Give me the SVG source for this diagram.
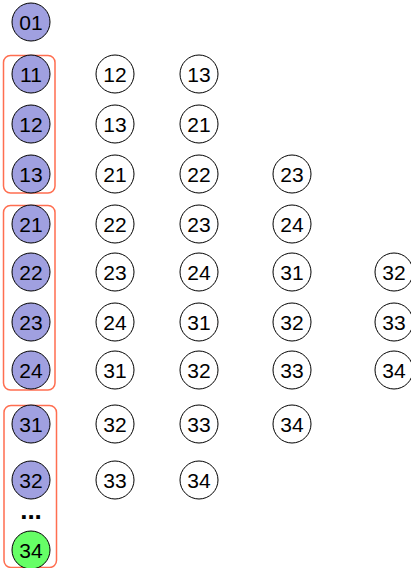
<svg xmlns="http://www.w3.org/2000/svg" width="411" height="568" viewBox="0 0 411 568">
<style>
.n circle{stroke:#000;stroke-width:1}
.b circle{fill:#a0a0e0}
.w circle{fill:#fff}
.g circle{fill:#66ff66}
text{font-family:"Liberation Sans",Arial,sans-serif;font-size:21px;fill:#000;text-anchor:middle;dominant-baseline:central}
.box{fill:none;stroke:#ff6e50;stroke-width:1.5}
</style>
<rect width="411" height="568" fill="#fff"/>
<g id="groups">
<rect class="box" x="3.5" y="55.5" width="51.5" height="137.5" rx="7"/>
<rect class="box" x="3.5" y="205.5" width="51.5" height="184.5" rx="7"/>
<rect class="box" x="4" y="405.5" width="52.5" height="162" rx="7"/>
</g>
<g id="c1">
<g id="n01" class="n b"><circle cx="31" cy="22" r="19"/><text x="31" y="22">01</text></g>
<g id="n11" class="n b"><circle cx="31" cy="74" r="19"/><text x="31" y="74">11</text></g>
<g id="n12" class="n b"><circle cx="31" cy="124" r="19"/><text x="31" y="124">12</text></g>
<g id="n13" class="n b"><circle cx="31" cy="174" r="19"/><text x="31" y="174">13</text></g>
<g id="n21" class="n b"><circle cx="31" cy="224" r="19"/><text x="31" y="224">21</text></g>
<g id="n22" class="n b"><circle cx="31" cy="272" r="19"/><text x="31" y="272">22</text></g>
<g id="n23" class="n b"><circle cx="31" cy="322" r="19"/><text x="31" y="322">23</text></g>
<g id="n24" class="n b"><circle cx="31" cy="370" r="19"/><text x="31" y="370">24</text></g>
<g id="n31" class="n b"><circle cx="31" cy="424" r="19"/><text x="31" y="424">31</text></g>
<g id="n32" class="n b"><circle cx="31" cy="480" r="19"/><text x="31" y="480">32</text></g>
<g id="dots"><text x="31" y="510" style="font-weight:bold;font-size:26px">...</text></g>
<g id="n34" class="n g"><circle cx="31" cy="550" r="19"/><text x="31" y="550">34</text></g>
</g>
<g id="c2">
<g id="c2r1" class="n w"><circle cx="115" cy="74" r="19"/><text x="115" y="74">12</text></g>
<g id="c2r2" class="n w"><circle cx="115" cy="124" r="19"/><text x="115" y="124">13</text></g>
<g id="c2r3" class="n w"><circle cx="115" cy="174" r="19"/><text x="115" y="174">21</text></g>
<g id="c2r4" class="n w"><circle cx="115" cy="224" r="19"/><text x="115" y="224">22</text></g>
<g id="c2r5" class="n w"><circle cx="115" cy="272" r="19"/><text x="115" y="272">23</text></g>
<g id="c2r6" class="n w"><circle cx="115" cy="322" r="19"/><text x="115" y="322">24</text></g>
<g id="c2r7" class="n w"><circle cx="115" cy="370" r="19"/><text x="115" y="370">31</text></g>
<g id="c2r8" class="n w"><circle cx="115" cy="424" r="19"/><text x="115" y="424">32</text></g>
<g id="c2r9" class="n w"><circle cx="115" cy="480" r="19"/><text x="115" y="480">33</text></g>
</g>
<g id="c3">
<g id="c3r1" class="n w"><circle cx="199" cy="74" r="19"/><text x="199" y="74">13</text></g>
<g id="c3r2" class="n w"><circle cx="199" cy="124" r="19"/><text x="199" y="124">21</text></g>
<g id="c3r3" class="n w"><circle cx="199" cy="174" r="19"/><text x="199" y="174">22</text></g>
<g id="c3r4" class="n w"><circle cx="199" cy="224" r="19"/><text x="199" y="224">23</text></g>
<g id="c3r5" class="n w"><circle cx="199" cy="272" r="19"/><text x="199" y="272">24</text></g>
<g id="c3r6" class="n w"><circle cx="199" cy="322" r="19"/><text x="199" y="322">31</text></g>
<g id="c3r7" class="n w"><circle cx="199" cy="370" r="19"/><text x="199" y="370">32</text></g>
<g id="c3r8" class="n w"><circle cx="199" cy="424" r="19"/><text x="199" y="424">33</text></g>
<g id="c3r9" class="n w"><circle cx="199" cy="480" r="19"/><text x="199" y="480">34</text></g>
</g>
<g id="c4">
<g id="c4r1" class="n w"><circle cx="292" cy="174" r="19"/><text x="292" y="174">23</text></g>
<g id="c4r2" class="n w"><circle cx="292" cy="224" r="19"/><text x="292" y="224">24</text></g>
<g id="c4r3" class="n w"><circle cx="292" cy="272" r="19"/><text x="292" y="272">31</text></g>
<g id="c4r4" class="n w"><circle cx="292" cy="322" r="19"/><text x="292" y="322">32</text></g>
<g id="c4r5" class="n w"><circle cx="292" cy="370" r="19"/><text x="292" y="370">33</text></g>
<g id="c4r6" class="n w"><circle cx="292" cy="424" r="19"/><text x="292" y="424">34</text></g>
</g>
<g id="c5">
<g id="c5r1" class="n w"><circle cx="394" cy="272" r="19"/><text x="394" y="272">32</text></g>
<g id="c5r2" class="n w"><circle cx="394" cy="322" r="19"/><text x="394" y="322">33</text></g>
<g id="c5r3" class="n w"><circle cx="394" cy="370" r="19"/><text x="394" y="370">34</text></g>
</g>
<g id="connectors"/>
</svg>
